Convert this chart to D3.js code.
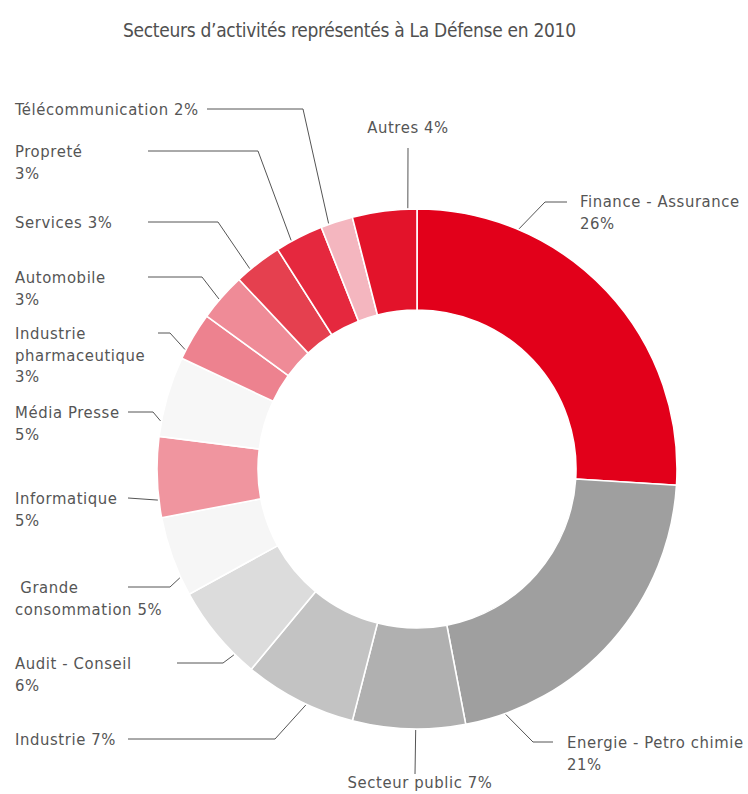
<!DOCTYPE html>
<html>
<head>
<meta charset="utf-8">
<script src="https://cdn.jsdelivr.net/npm/d3@7/dist/d3.min.js"></script>
<style>
  body { margin: 0; background: #fff; }
  text { font-family: "DejaVu Sans Condensed", "DejaVu Sans", sans-serif; font-stretch: condensed; fill: #555; }
</style>
</head>
<body>
<svg id="chart" width="748" height="794"></svg>
<script>
// Sectors, clockwise from 12 o'clock
const sectors = [
  "Finance - Assurance", "Energie - Petro chimie", "Secteur public", "Industrie",
  "Audit - Conseil", "Grande consommation", "Informatique", "Média Presse",
  "Industrie pharmaceutique", "Automobile", "Services", "Propreté",
  "Télécommunication", "Autres"
];
const shares = [26, 21, 7, 7, 6, 5, 5, 5, 3, 3, 3, 3, 2, 4];
const labelLines = [
  ["Finance - Assurance", "26%"],
  ["Energie - Petro chimie", "21%"],
  ["Secteur public 7%"],
  ["Industrie 7%"],
  ["Audit - Conseil", "6%"],
  [" Grande", "consommation 5%"],
  ["Informatique", "5%"],
  ["Média Presse", "5%"],
  ["Industrie", "pharmaceutique", "3%"],
  ["Automobile", "3%"],
  ["Services 3%"],
  ["Propreté", "3%"],
  ["Télécommunication 2%"],
  ["Autres 4%"]
];
const sliceColors = [
  "#e2001a", "#9f9f9f", "#b0b0b0", "#c3c3c3",
  "#dcdcdc", "#f6f6f6", "#f0959f", "#f7f7f7",
  "#ed828f", "#ef8b97", "#e5404f", "#e5283e",
  "#f4b6bf", "#e3132a"
];

// Label placement: anchor fraction along the slice, optional elbow, line end, text origin
const labelLayout = [
  { t: 0.246, elbow: [545, 202], end: [567, 202], x: 580, y: 207, anchor: "start" },
  { t: 0.88,  elbow: [533, 742], end: [553, 742], x: 567, y: 748, anchor: "start" },
  { t: 0.44,  elbow: null,       end: [415, 774], x: 420, y: 788, anchor: "middle" },
  { t: 0.43,  elbow: [275, 739], end: [128, 739], x: 15,  y: 745, anchor: "start" },
  { t: 0.23,  elbow: [223, 663], end: [177, 663], x: 15,  y: 669, anchor: "start" },
  { t: 0.23,  elbow: [170, 587], end: [128, 587], x: 15,  y: 593, anchor: "start" },
  { t: 0.22,  elbow: null,       end: [128, 498], x: 15,  y: 504, anchor: "start" },
  { t: 0.19,  elbow: [153, 412], end: [128, 412], x: 15,  y: 418, anchor: "start" },
  { t: 0.19,  elbow: [170, 333], end: [158, 333], x: 15,  y: 339, anchor: "start" },
  { t: 0.43,  elbow: [202, 277], end: [148, 277], x: 15,  y: 283, anchor: "start" },
  { t: 0.31,  elbow: [218, 222], end: [148, 222], x: 15,  y: 228, anchor: "start" },
  { t: 0.33,  elbow: [258, 151], end: [148, 151], x: 15,  y: 157, anchor: "start" },
  { t: 0.25,  elbow: [303, 109], end: [207, 109], x: 15,  y: 115, anchor: "start" },
  { t: 0.86,  elbow: null,       end: [408, 148], x: 408, y: 133, anchor: "middle" }
];

const cx = 417, cy = 469, outerR = 260, innerR = 159;
const lineGap = 21.5;

const svg = d3.select("#chart");

svg.append("text")
  .attr("x", 123).attr("y", 37)
  .style("font-size", "19px")
  .style("letter-spacing", "-0.3px")
  .style("fill", "#505050")
  .text("Secteurs d’activités représentés à La Défense en 2010");

const data = sectors.map((name, i) => ({ name, value: shares[i], i }));
const pie = d3.pie().value(d => d.value).sort(null);
const arcs = pie(data);
const arc = d3.arc().innerRadius(innerR).outerRadius(outerR);

const g = svg.append("g").attr("transform", `translate(${cx},${cy})`);
g.selectAll("path.slice")
  .data(arcs)
  .join("path")
  .attr("class", "slice")
  .attr("d", arc)
  .attr("fill", d => sliceColors[d.data.i])
  .attr("stroke", "#fff")
  .attr("stroke-width", 1.6);

// Leader lines from the outer rim to each label
const leader = d3.line();
arcs.forEach(a => {
  const L = labelLayout[a.data.i];
  const theta = a.startAngle + L.t * (a.endAngle - a.startAngle);
  const r = outerR + 1;
  const start = [cx + r * Math.sin(theta), cy - r * Math.cos(theta)];
  const pts = [start];
  if (L.elbow) pts.push(L.elbow);
  pts.push(L.end);
  svg.append("path")
    .attr("d", leader(pts))
    .attr("fill", "none")
    .attr("stroke", "#555")
    .attr("stroke-width", 1);

  const txt = svg.append("text")
    .attr("x", L.x).attr("y", L.y)
    .attr("text-anchor", L.anchor)
    .style("font-size", "16.5px")
    .style("letter-spacing", "0.6px")
    .style("white-space", "pre");
  labelLines[a.data.i].forEach((line, k) => {
    txt.append("tspan")
      .attr("x", L.x)
      .attr("y", L.y + k * lineGap)
      .text(line);
  });
});
</script>
</body>
</html>
